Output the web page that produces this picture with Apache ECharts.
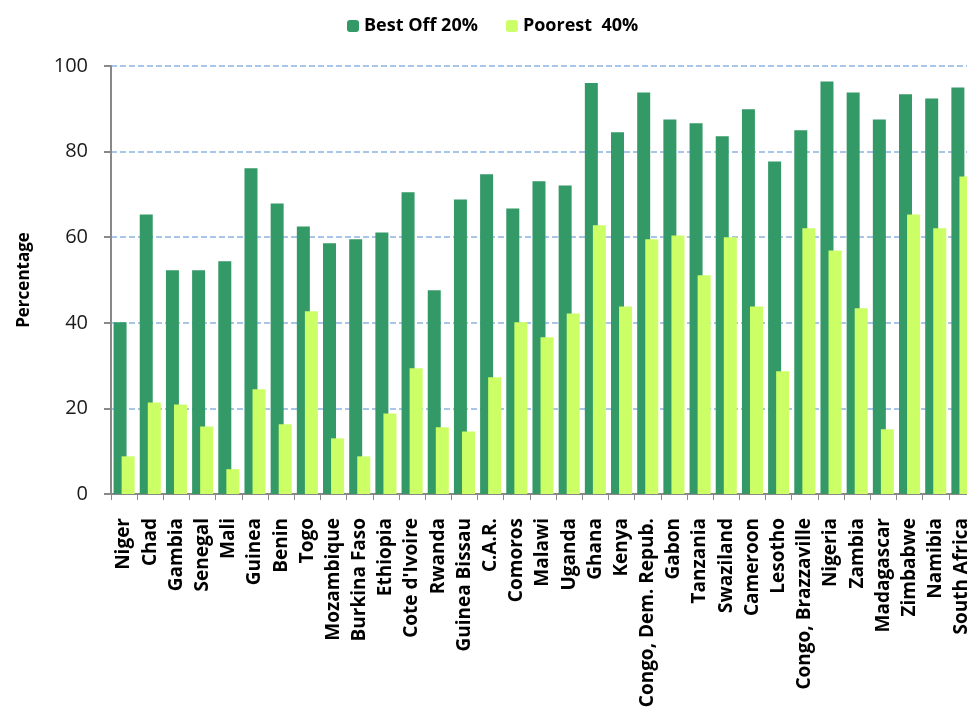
<!DOCTYPE html>
<html>
<head>
<meta charset="utf-8">
<script src="https://cdn.jsdelivr.net/npm/echarts@6/dist/echarts.min.js"></script>
<style>
  html, body { margin: 0; padding: 0; background: #fff; overflow: hidden; }
  /* plot runs past the right edge in the original, so the canvas is a bit wider than the window */
  #chart { width: 976px; height: 723px; }
</style>
</head>
<body>
<div id="chart"></div>
<script>
const countries = [
  "Niger", "Chad", "Gambia", "Senegal", "Mali", "Guinea", "Benin", "Togo",
  "Mozambique", "Burkina Faso", "Ethiopia", "Cote d'Ivoire", "Rwanda",
  "Guinea Bissau", "C.A.R.", "Comoros", "Malawi", "Uganda", "Ghana", "Kenya",
  "Congo, Dem. Repub.", "Gabon", "Tanzania", "Swaziland", "Cameroon",
  "Lesotho", "Congo, Brazzaville", "Nigeria", "Zambia", "Madagascar",
  "Zimbabwe", "Namibia", "South Africa"
];
const bestOff = [
  40.1, 65.3, 52.3, 52.3, 54.4, 76.1, 67.9, 62.5, 58.6, 59.5, 61.1, 70.5,
  47.6, 68.8, 74.7, 66.7, 73.1, 72.1, 96.0, 84.5, 93.8, 87.5, 86.6, 83.6,
  89.9, 77.7, 85.0, 96.4, 93.8, 87.5, 93.4, 92.4, 95.0
];
const poorest = [
  8.8, 21.4, 20.9, 15.8, 5.8, 24.5, 16.3, 42.7, 13.0, 8.8, 18.8, 29.4,
  15.6, 14.6, 27.3, 40.1, 36.6, 42.2, 62.8, 43.8, 59.5, 60.4, 51.1, 60.0,
  43.8, 28.7, 62.1, 56.9, 43.4, 15.1, 65.3, 62.1, 74.2
];
const seriesNames = ["Best Off 20%", "Poorest  40%"];

const font = '"Open Sans", "Liberation Sans", sans-serif';
const chart = echarts.init(document.getElementById("chart"));
chart.setOption({
  animation: false,
  legend: {
    data: seriesNames,
    top: 12,
    left: 342,
    itemWidth: 12,
    itemHeight: 12,
    itemGap: 28,
    textStyle: { fontFamily: font, fontWeight: "bold", fontSize: 18, color: "#000" },
  },
  grid: { left: 111, top: 66, bottom: 229, right: 1 },
  xAxis: {
    type: "category",
    data: countries,
    axisLine: { lineStyle: { color: "#898989", width: 2 } },
    axisTick: { show: true, length: 6, lineStyle: { color: "#898989", width: 1 } },
    axisLabel: {
      rotate: 90,
      interval: 0,
      margin: 24,
      fontFamily: font,
      fontWeight: "bold",
      fontSize: 19,
      color: "#000",
    },
  },
  yAxis: {
    type: "value",
    min: 0,
    max: 100,
    interval: 20,
    name: "Percentage",
    nameLocation: "middle",
    nameGap: 78,
    nameTextStyle: { fontFamily: font, fontWeight: "bold", fontSize: 17, color: "#000" },
    axisLine: { show: true, lineStyle: { color: "#898989", width: 2 } },
    axisTick: { show: true, length: 7, lineStyle: { color: "#898989", width: 2 } },
    axisLabel: { fontFamily: font, fontSize: 20, color: "#1a1a1a", margin: 23 },
    splitLine: { lineStyle: { color: "#8db3e2", type: [6, 3], width: 1.5 } },
  },
  series: [
    {
      name: seriesNames[0],
      type: "bar",
      data: bestOff,
      barWidth: 13,
      barGap: "-38%",
      itemStyle: { color: "#339966" },
    },
    {
      name: seriesNames[1],
      type: "bar",
      data: poorest,
      barWidth: 13,
      itemStyle: { color: "#ccff66" },
    },
  ],
});
</script>
</body>
</html>
